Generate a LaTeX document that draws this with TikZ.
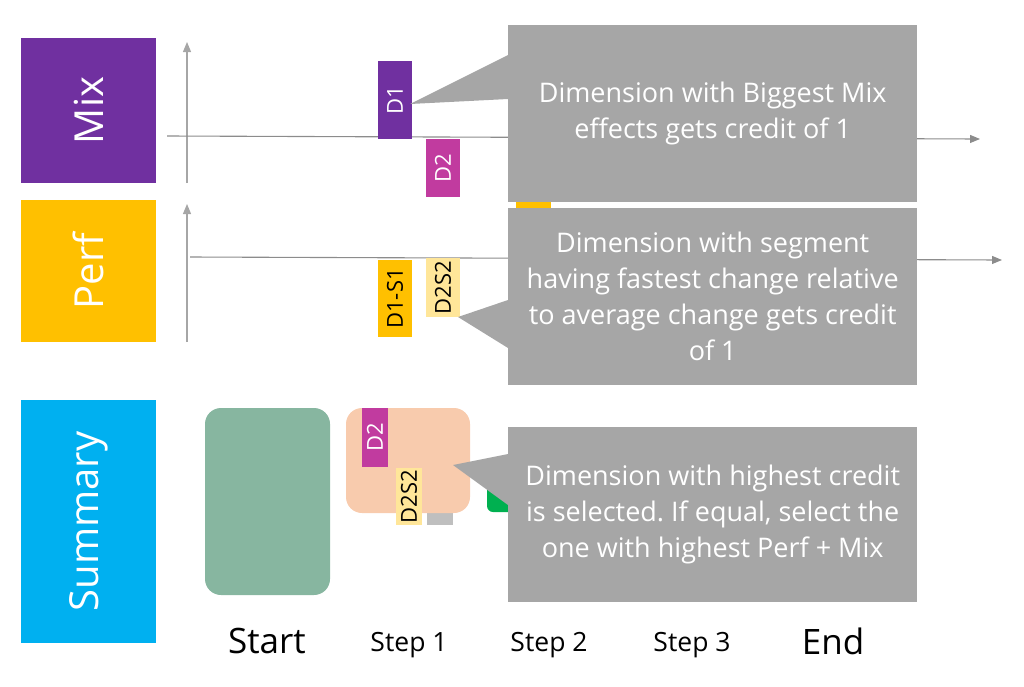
\documentclass[tikz,border=0pt]{standalone}
\usepackage{fontspec}
\setmainfont{Open Sans}
\usetikzlibrary{arrows.meta,calc}
\definecolor{mixpurple}{HTML}{7030A0}
\definecolor{perfyellow}{HTML}{FFC000}
\definecolor{sumblue}{HTML}{00B0F0}
\definecolor{dmag}{HTML}{C13B9F}
\definecolor{lightyel}{HTML}{FFE699}
\definecolor{callgray}{HTML}{A6A6A6}
\definecolor{sage}{HTML}{87B6A0}
\definecolor{peach}{HTML}{F8CBAD}
\definecolor{okgreen}{HTML}{00B050}
\definecolor{smallgray}{HTML}{BFBFBF}
\definecolor{axisgray}{HTML}{8C8C8C}
\frenchspacing
\tikzset{
  cat/.style={rotate=90,inner sep=0pt,minimum width=#1,minimum height=135pt,text=white,font=\fontsize{40}{46}\selectfont},
  tag/.style={rotate=90,inner sep=0pt,font=\fontsize{22}{26}\selectfont},
  callout/.style={fill=callgray,inner sep=0pt,minimum width=409pt,minimum height=177pt,anchor=north west,text=white,align=center,font=\fontsize{27}{36}\selectfont},
  axis/.style={draw=axisgray,line width=1.1pt,-{Triangle[length=10pt,width=8pt]}},
  vaxis/.style={draw=callgray,line width=1.1pt,-{Triangle[length=10pt,width=8pt]}},
  steplabel/.style={font=\fontsize{26.5}{30}\selectfont},
  endlabel/.style={font=\fontsize{35}{40}\selectfont},
}
\begin{document}
\begin{tikzpicture}[x=1pt,y=-1pt]
\useasboundingbox (0,0) rectangle (1024,686);
% category boxes
\node[cat=145pt,fill=mixpurple] (mix) at (88.5,110.5) {Mix};
\node[cat=142pt,fill=perfyellow] (perf) at (88.5,271) {Perf};
\node[cat=243pt,fill=sumblue] (sum) at (88.5,521.5) {Summary};
% mix axes
\coordinate (mixvb) at (187,183);
\coordinate (mixvt) at (187,42);
\coordinate (mixhl) at (167,136);
\coordinate (mixhr) at (980,139);
\draw[vaxis] (mixvb) -- (mixvt);
\draw[axis] (mixhl) -- (mixhr);
% perf axes
\coordinate (perfvb) at (187,342);
\coordinate (perfvt) at (187,204);
\coordinate (perfhl) at (190,257);
\coordinate (perfhr) at (1002,260);
\draw[vaxis] (perfvb) -- (perfvt);
\draw[axis] (perfhl) -- (perfhr);
% mix tags
\node[tag,fill=mixpurple,text=white,minimum width=78pt,minimum height=34pt] (d1) at (395,100) {D1};
\node[tag,fill=dmag,text=white,minimum width=58pt,minimum height=34pt] (d2) at (443,168) {D2};
% perf tags
\node[tag,fill=perfyellow,minimum width=77pt,minimum height=34pt] (d1s1) at (395,298.5) {D1-S1};
\node[tag,fill=lightyel,minimum width=59pt,minimum height=34pt] (d2s2) at (443,287.5) {D2S2};
% hidden yellow sliver
\fill[perfyellow] (516,195) rectangle (551,215);
% summary
\fill[sage,rounded corners=16pt] (205,408) rectangle (330,595);
\fill[smallgray] (427,505) rectangle (453,525);
\fill[okgreen,rounded corners=6pt] (487,470) rectangle (540,512);
\fill[peach,rounded corners=16pt] (346,408) rectangle (470,513);
\node[tag,fill=dmag,text=white,minimum width=59pt,minimum height=26pt] (sd2) at (375,437.5) {D2};
\node[tag,fill=lightyel,minimum width=57pt,minimum height=26pt] (sd2s2) at (409,496.5) {D2S2};
% callouts
\node[callout] (c1) at (508,25) {Dimension with Biggest Mix\\effects gets credit of 1};
\coordinate (t1) at (410,104);
\fill[callgray] (t1) -- ($(c1.north west)+(0,30)$) -- ($(c1.north west)+(0,74)$) -- cycle;
\node[callout] (c2) at (508,208) {Dimension with segment\\having fastest change relative\\to average change gets credit\\of 1};
\coordinate (t2) at (458,317);
\fill[callgray] (t2) -- ($(c2.north west)+(0,92)$) -- ($(c2.north west)+(0,140)$) -- cycle;
\node[callout,minimum height=175pt] (c3) at (508,427) {Dimension with highest credit\\is selected. If equal, select the\\one with highest Perf + Mix};
\coordinate (t3) at (453,465);
\fill[callgray] (t3) -- ($(c3.north west)+(0,27)$) -- ($(c3.north west)+(0,78)$) -- cycle;
% bottom labels
\node[endlabel] (start) at (267,641) {Start};
\node[steplabel] (s1) at (409,645) {Step 1};
\node[steplabel] (s2) at (549,645) {Step 2};
\node[steplabel] (s3) at (692,645) {Step 3};
\node[endlabel] (end) at (833,641) {End};
\end{tikzpicture}
\end{document}
